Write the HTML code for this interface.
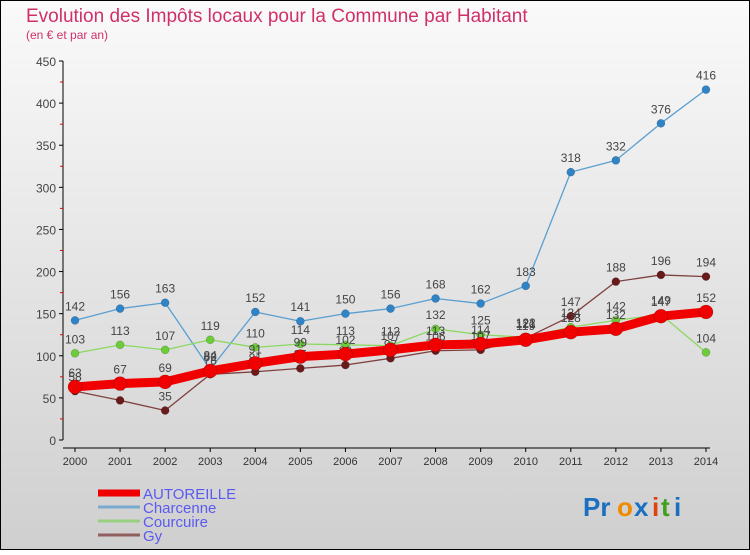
<!DOCTYPE html>
<html><head><meta charset="utf-8"><style>
html,body{margin:0;padding:0}
body{width:750px;height:550px;overflow:hidden;font-family:"Liberation Sans",sans-serif}
</style></head><body>
<svg id="chart" width="750" height="550" xmlns="http://www.w3.org/2000/svg">
<defs><linearGradient id="bg" x1="0" y1="0" x2="0" y2="1"><stop offset="0" stop-color="#fafafa"/><stop offset="1" stop-color="#cfcfcf"/></linearGradient></defs>
<rect x="0.5" y="0.5" width="749" height="549" fill="url(#bg)" stroke="#000"/>
<text x="26" y="22" font-size="19" fill="#d0306a">Evolution des Impôts locaux pour la Commune par Habitant</text>
<text x="26" y="39" font-size="12" fill="#d0306a">(en € et par an)</text>
<g id="axes"></g><g id="series"></g><g id="legend"></g>
<g font-size="26" font-weight="bold">
<text x="583" y="516" fill="#1a6fc0">Pr</text><text x="617" y="516" fill="#f08a00">o</text><text x="634" y="516" fill="#1a6fc0">x</text><text x="652" y="516" fill="#e04010">i</text><text x="661" y="516" fill="#40a020">t</text><text x="674" y="516" fill="#1a6fc0">i</text>
</g>
</svg>
<script>
const years=[2000,2001,2002,2003,2004,2005,2006,2007,2008,2009,2010,2011,2012,2013,2014];
const yTicks=[0,50,100,150,200,250,300,350,400,450];
const seriesNames=["AUTOREILLE","Charcenne","Courcuire","Gy"];
const autoreille=[63,67,69,82,91,99,102,107,113,114,119,128,132,147,152];
const charcenne=[142,156,163,84,152,141,150,156,168,162,183,318,332,376,416];
const courcuire=[103,113,107,119,110,114,113,112,132,125,122,134,142,149,104];
const gy=[58,47,35,78,81,85,89,97,106,107,121,147,188,196,194];
const NS="http://www.w3.org/2000/svg";
const x=i=>75+i*(706-75)/(years.length-1);
const y=v=>440-v*(440-61)/450;
function mk(tag,attrs,parent,txt){const e=document.createElementNS(NS,tag);for(const k in attrs)e.setAttribute(k,attrs[k]);if(txt!==undefined)e.textContent=txt;parent.appendChild(e);return e;}
const axes=document.getElementById('axes');
let yl=mk('line',{x1:63,y1:61,x2:63,y2:440,stroke:'#000'},axes);


let xl=mk('line',{x1:63,y1:448,x2:710,y2:448,stroke:'#000'},axes);


yTicks.forEach(t=>{
  mk('line',{x1:59,y1:y(t),x2:63,y2:y(t),stroke:'#000'},axes);
  if(t<450) mk('line',{x1:60,y1:y(t+25),x2:63,y2:y(t+25),stroke:'#e00'},axes);
  const l=mk('text',{x:56,y:y(t)+5,'font-size':12,fill:'#444','text-anchor':'end'},axes,t);
  
  
});
years.forEach((yr,i)=>{
  mk('line',{x1:x(i),y1:448,x2:x(i),y2:452,stroke:'#000'},axes);
  const l=mk('text',{x:x(i),y:465,'font-size':11,fill:'#333','text-anchor':'middle'},axes,yr);
  
  
});
const sg=document.getElementById('series');
function draw(data,color,dot,w,r,name){
  const g=mk('g',{},sg);
  
  
  mk('polyline',{points:data.map((v,i)=>x(i)+','+y(v)).join(' '),fill:'none',stroke:color,'stroke-width':w,'stroke-linejoin':'round'},g);
  data.forEach((v,i)=>{
    const c=mk('circle',{cx:x(i),cy:y(v),r:r,fill:dot,stroke:'rgba(0,0,0,0.3)','stroke-width':0.5},g);
    
    
    const t=mk('text',{x:x(i),y:y(v)-10,'font-size':12,fill:'#444','text-anchor':'middle'},g,v);
    
    
  });
}
draw(charcenne,'#5a9fd0','#2f84c8',1.3,4,'charcenne');
draw(courcuire,'#8bd860','#6ccc3a',1.3,4,'courcuire');
draw(gy,'#804040','#6a1a1a',1.3,4,'gy');
draw(autoreille,'#f00000','#f00000',9,7,'autoreille');
const lg=document.getElementById('legend');
const lc=['#f00000','#7aaad0','#98d080','#906060'],lw=[7,3,3,3];
seriesNames.forEach((n,i)=>{
  const g=mk('g',{},lg);
  
  
  mk('line',{x1:98,y1:493+i*14,x2:140,y2:493+i*14,stroke:lc[i],'stroke-width':lw[i]},g);
  mk('text',{x:143,y:499+i*14,'font-size':15,fill:'#5a5af0'},g,n);
});
</script>
</body></html>
